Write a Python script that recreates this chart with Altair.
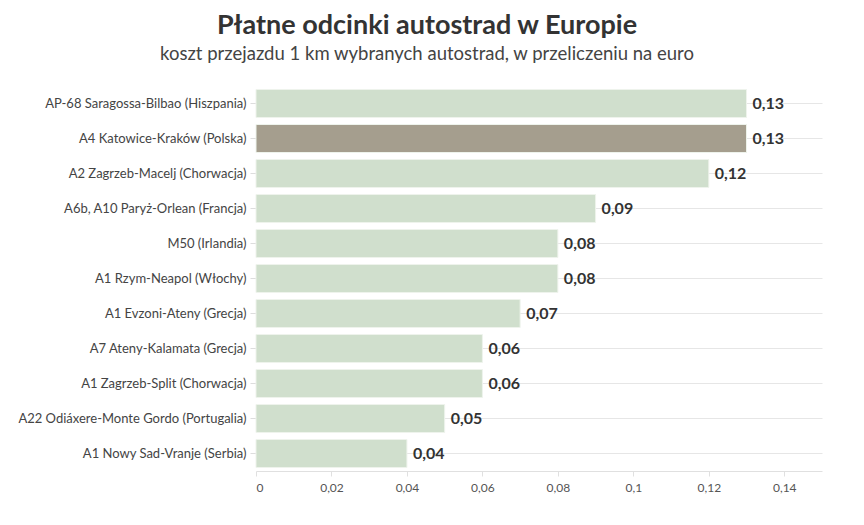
import altair as alt
import pandas as pd

roads = [
    "AP-68 Saragossa-Bilbao (Hiszpania)",
    "A4 Katowice-Kraków (Polska)",
    "A2 Zagrzeb-Macelj (Chorwacja)",
    "A6b, A10 Paryż-Orlean (Francja)",
    "M50 (Irlandia)",
    "A1 Rzym-Neapol (Włochy)",
    "A1 Evzoni-Ateny (Grecja)",
    "A7 Ateny-Kalamata (Grecja)",
    "A1 Zagrzeb-Split (Chorwacja)",
    "A22 Odiáxere-Monte Gordo (Portugalia)",
    "A1 Nowy Sad-Vranje (Serbia)",
]
costs = [0.13, 0.13, 0.12, 0.09, 0.08, 0.08, 0.07, 0.06, 0.06, 0.05, 0.04]
highlight = [False, True, False, False, False, False, False, False, False, False, False]
x_ticks = [0, 0.02, 0.04, 0.06, 0.08, 0.10, 0.12, 0.14]

df = pd.DataFrame({"road": roads, "cost": costs, "hl": highlight})

FONT = "Lato"

y = alt.Y(
    "road:N",
    sort=roads,
    title=None,
    scale=alt.Scale(paddingInner=0.2, paddingOuter=0.1),
    axis=alt.Axis(
        bandPosition=0.5,
        grid=True,
        gridColor="#e6e6e6",
        domain=False,
        ticks=True,
        tickColor="#dddddd",
        tickSize=6,
        labelFont=FONT,
        labelFontSize=13,
        labelColor="#444444",
        labelPadding=4,
        labelLimit=300,
    ),
)

x = alt.X(
    "cost:Q",
    title=None,
    scale=alt.Scale(domain=[0, 0.15], nice=False),
    axis=alt.Axis(
        values=x_ticks,
        grid=False,
        domain=True,
        domainColor="#e0e0e0",
        ticks=True,
        tickColor="#e0e0e0",
        tickSize=5,
        labelFont=FONT,
        labelFontSize=12,
        labelColor="#555555",
        labelPadding=6,
        labelExpr="replace(format(datum.value, '~g'), '.', ',')",
    ),
)

bars = alt.Chart(df).mark_bar(stroke="#eef3ec", strokeWidth=1).encode(
    x=x,
    y=y,
    color=alt.Color(
        "hl:N",
        scale=alt.Scale(domain=[False, True], range=["#d0dfcd", "#a59e8e"]),
        legend=None,
    ),
)

labels = alt.Chart(df).transform_calculate(
    lab="replace(format(datum.cost, '.2f'), '.', ',')"
).mark_text(
    align="left", baseline="middle", dx=6, font=FONT, fontSize=16,
    fontWeight="bold", color="#333333"
).encode(
    x=alt.X("cost:Q"),
    y=alt.Y("road:N", sort=roads),
    text="lab:N",
)

chart = (bars + labels).properties(
    width=566,
    height=385,
    autosize=alt.AutoSizeParams(type="none"),
    padding={"left": 248, "top": 78, "right": 34, "bottom": 40},
    title=alt.TitleParams(
        text="Płatne odcinki autostrad w Europie",
        subtitle="koszt przejazdu 1 km wybranych autostrad, w przeliczeniu na euro",
        anchor="middle",
        dx=-112,
        font=FONT,
        fontSize=27,
        fontWeight="bold",
        color="#333333",
        subtitleFont=FONT,
        subtitleFontSize=18.5,
        subtitleColor="#444444",
        subtitlePadding=5,
        offset=22,
    ),
).configure(background="white").configure_view(stroke=None, strokeWidth=0)

chart.save("out.html", embed_options={"renderer": "svg", "actions": False})
